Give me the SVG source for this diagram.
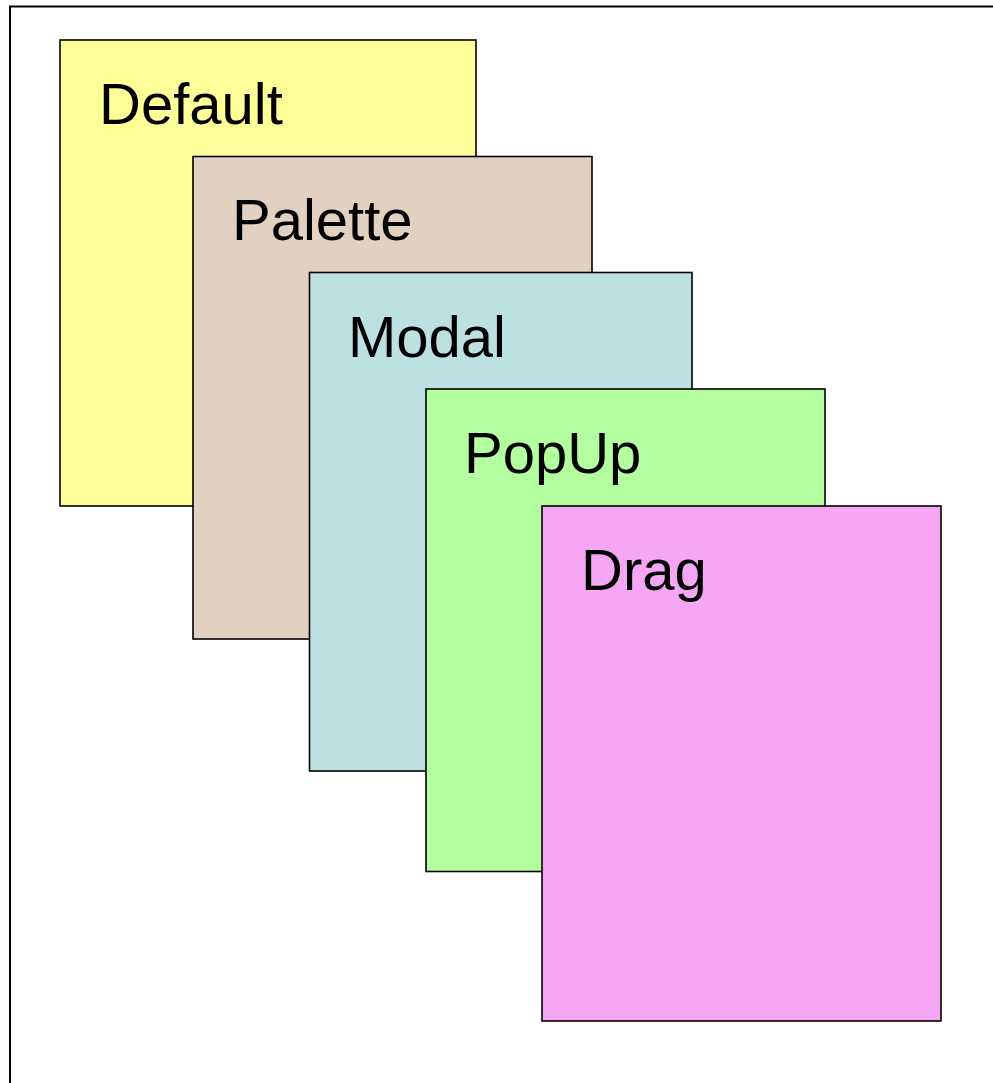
<svg xmlns="http://www.w3.org/2000/svg" width="993" height="1083" viewBox="0 0 993 1083">
  <style>
    .layer { stroke: #000; stroke-width: 1.6; }
    .label { font-family: "Liberation Sans", Arial, sans-serif; font-size: 58px; fill: #000; }
  </style>
  <rect width="993" height="1083" fill="#fff"/>
  <!-- outer frame, open to the right and bottom -->
  <rect x="10" y="6.5" width="1000" height="1100" fill="none" stroke="#000" stroke-width="2"/>

  <g id="default">
    <rect class="layer" x="60" y="40" width="416" height="466" fill="#FFFF99"/>
    <text class="label" x="99" y="124">Default</text>
  </g>
  <g id="palette">
    <rect class="layer" x="193" y="156.5" width="399" height="482.5" fill="#E2D0C0"/>
    <text class="label" x="232" y="240">Palette</text>
  </g>
  <g id="modal">
    <rect class="layer" x="309.5" y="272.5" width="382.5" height="498.5" fill="#BDE0E2"/>
    <text class="label" x="348" y="357">Modal</text>
  </g>
  <g id="popup">
    <rect class="layer" x="426" y="389" width="399" height="482.5" fill="#B3FF9F"/>
    <text class="label" x="464" y="473">PopUp</text>
  </g>
  <g id="drag">
    <rect class="layer" x="542" y="506" width="399" height="515" fill="#F5A6F5"/>
    <text class="label" x="581" y="590">Drag</text>
  </g>
  <g id="connectors"/>
</svg>
